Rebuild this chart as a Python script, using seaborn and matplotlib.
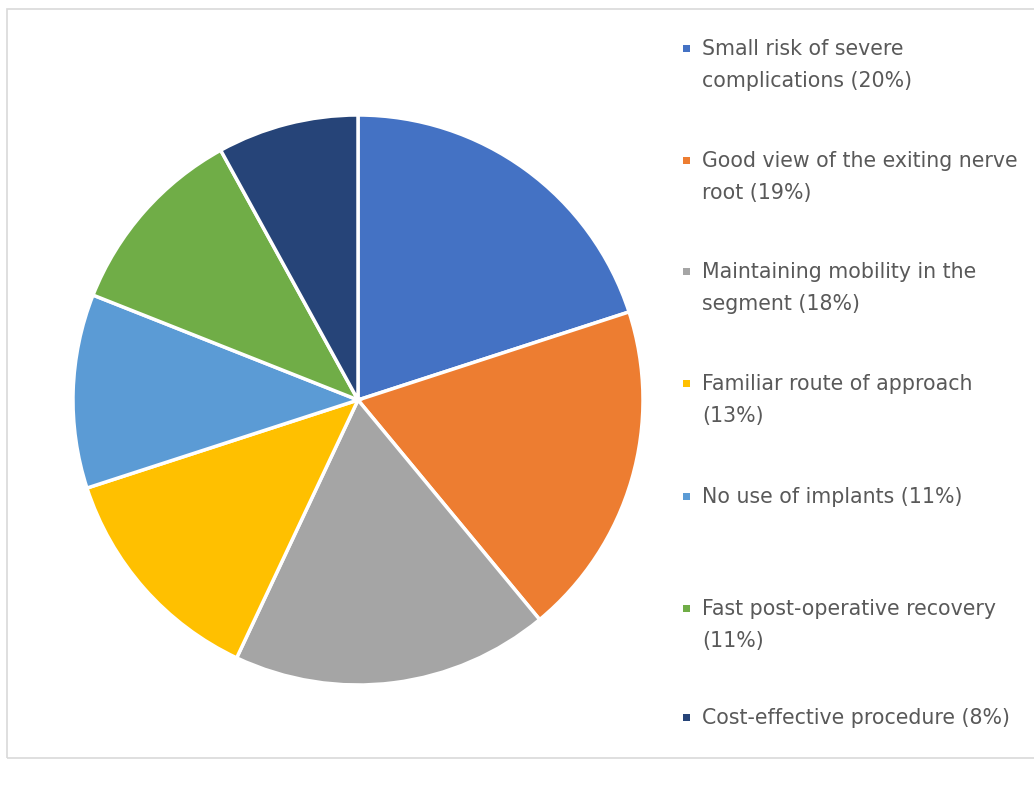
import matplotlib
matplotlib.use("Agg")
import matplotlib.pyplot as plt
from matplotlib.patches import Rectangle
import seaborn as sns

labels = [
    "Small risk of severe\ncomplications (20%)",
    "Good view of the exiting nerve\nroot (19%)",
    "Maintaining mobility in the\nsegment (18%)",
    "Familiar route of approach\n(13%)",
    "No use of implants (11%)",
    "Fast post-operative recovery\n(11%)",
    "Cost-effective procedure (8%)",
]
values = [20, 19, 18, 13, 11, 11, 8]
colors = ["#4472C4", "#ED7D31", "#A5A5A5", "#FFC000", "#5B9BD5", "#70AD47", "#264478"]

sns.set_theme(style="white")
plt.rcParams['font.family'] = ['DejaVu Sans']

W, H = 1034, 786
fig = plt.figure(figsize=(W / 100, H / 100), dpi=100)
fig.patch.set_facecolor("white")

# chart border
fig.patches.append(Rectangle((7 / W, 1 - 758 / H), 1.2, (758 - 9) / H,
                             transform=fig.transFigure, fill=False,
                             edgecolor="#d9d9d9", linewidth=1.2))

cx, cy, r = 358, 400, 285
ax = fig.add_axes([(cx - r) / W, (H - cy - r) / H, 2 * r / W, 2 * r / H])
palette = sns.color_palette(colors)
ax.pie(values, colors=palette, startangle=90, counterclock=False,
       wedgeprops=dict(edgecolor="white", linewidth=2.5))
ax.set_xlim(-1, 1)
ax.set_ylim(-1, 1)
ax.set_aspect("equal")
ax.axis("off")

# legend
ys = [48, 160, 271, 383, 496, 608, 717]
for lab, col, y in zip(labels, palette, ys):
    fig.patches.append(Rectangle(((686 - 3.5) / W, 1 - (y + 3.5) / H), 7 / W, 7 / H,
                                 transform=fig.transFigure, facecolor=col,
                                 edgecolor="none"))
    fig.text(702 / W, 1 - (y - 9) / H, lab, ha="left", va="top",
             fontsize=14.8, color="#595959", linespacing=1.75)

fig.savefig("out.png", dpi=100)
